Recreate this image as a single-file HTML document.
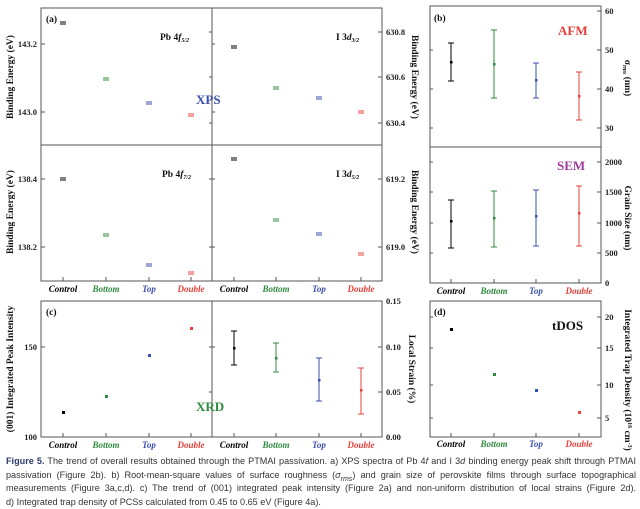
<!DOCTYPE html>
<html><head><meta charset="utf-8"><style>
body{margin:0;background:#fff;width:640px;height:508px;overflow:hidden}
svg{position:absolute;left:0;top:0}
.cap{position:absolute;left:6px;top:455px;width:630px;font:9.1px/13.5px "Liberation Sans",sans-serif;color:#333}
.cap div{text-align:justify;text-align-last:justify;white-space:nowrap;height:13.5px}
.cap div.l{text-align-last:left}
</style></head><body>
<svg width="640" height="508" font-family="Liberation Serif, serif" font-weight="bold">
<g fill="none" stroke="#555" stroke-width="1">
<rect x="41" y="8" width="341" height="273"/>
<line x1="212" y1="8" x2="212" y2="281"/><line x1="41" y1="145" x2="382" y2="145"/>
<rect x="41" y="301" width="341" height="136"/><line x1="212" y1="301" x2="212" y2="437"/>
<rect x="430" y="6" width="171" height="277"/><line x1="430" y1="147" x2="601" y2="147"/>
<rect x="430" y="301" width="171" height="136"/>
</g>
<g stroke="#555" stroke-width="1">
<path d="M41 44h4M41 112h4M41 179h4M41 247h4M382 32h-4M382 77h-4M382 123h-4M382 179h-4M382 247h-4M212 32h-3M212 77h-3M212 123h-3M212 179h-3M212 247h-3M212 44h3M212 112h3M212 179h3M212 247h3"/>
<path d="M63 281v-4M106 281v-4M149 281v-4M191 281v-4M234 281v-4M276 281v-4M319 281v-4M361 281v-4"/>
<path d="M41 347h4M41 437h4M382 347h-4M382 392h-4M212 347h3M212 347h-3M212 392h-3"/>
<path d="M63 437v-4M106 437v-4M149 437v-4M191 437v-4M234 437v-4M276 437v-4M319 437v-4M361 437v-4"/>
<path d="M601 11h-4M601 50h-4M601 89h-4M601 128h-4M430 50h3M430 89h3M430 128h3M601 162h-4M601 192h-4M601 223h-4M601 253h-4M430 162h3M430 192h3M430 223h3M430 253h3"/>
<path d="M451 283v-4M494 283v-4M536 283v-4M579 283v-4M451 437v-4M494 437v-4M536 437v-4M579 437v-4"/>
<path d="M601 317h-4M601 348h-4M601 385h-4M601 418h-4M430 317h3M430 348h3M430 385h3M430 418h3"/>
</g>
<g stroke-width="1">
<g stroke="#000"><path d="M60 22h6M60 24h6M231 46h6M231 48h6M60 178h6M60 180h6M231 158h6M231 160h6"/></g>
<g stroke="#2e8b3e"><path d="M103 78h6M103 80h6M273 87h6M273 89h6M103 234h6M103 236h6M273 219h6M273 221h6"/></g>
<g stroke="#3a4fb0"><path d="M146 102h6M146 104h6M316 97h6M316 99h6M146 264h6M146 266h6M316 233h6M316 235h6"/></g>
<g stroke="#e8403a"><path d="M188 114h6M188 116h6M358 111h6M358 113h6M188 272h6M188 274h6M358 253h6M358 255h6"/></g>
</g>
<rect x="62" y="411" width="3" height="3" fill="#000"/><rect x="105" y="395" width="3" height="3" fill="#2e8b3e"/><rect x="148" y="354" width="3" height="3" fill="#3a4fb0"/><rect x="190" y="327" width="3" height="3" fill="#e8403a"/>
<g stroke-width="1">
<path stroke="#000" d="M234 331v34M231 331h6M231 365h6"/><rect x="233" y="347" width="2.5" height="2.5" fill="#000"/>
<path stroke="#2e8b3e" d="M276 343v29M273 343h6M273 372h6"/><rect x="275" y="357" width="2.5" height="2.5" fill="#2e8b3e"/>
<path stroke="#3a4fb0" d="M319 358v43M316 358h6M316 401h6"/><rect x="318" y="379" width="2.5" height="2.5" fill="#3a4fb0"/>
<path stroke="#e8403a" d="M361 368v46M358 368h6M358 414h6"/><rect x="360" y="389" width="2.5" height="2.5" fill="#e8403a"/>
<path stroke="#000" d="M451 43v38M448 43h6M448 81h6"/><rect x="450" y="61" width="2.5" height="2.5" fill="#000"/>
<path stroke="#2e8b3e" d="M494 30v68M491 30h6M491 98h6"/><rect x="493" y="63" width="2.5" height="2.5" fill="#2e8b3e"/>
<path stroke="#3a4fb0" d="M536 63v35M533 63h6M533 98h6"/><rect x="535" y="79" width="2.5" height="2.5" fill="#3a4fb0"/>
<path stroke="#e8403a" d="M579 72v48M576 72h6M576 120h6"/><rect x="578" y="95" width="2.5" height="2.5" fill="#e8403a"/>
<path stroke="#000" d="M451 200v48M448 200h6M448 248h6"/><rect x="450" y="220" width="2.5" height="2.5" fill="#000"/>
<path stroke="#2e8b3e" d="M494 191v56M491 191h6M491 247h6"/><rect x="493" y="217" width="2.5" height="2.5" fill="#2e8b3e"/>
<path stroke="#3a4fb0" d="M536 190v56M533 190h6M533 246h6"/><rect x="535" y="215" width="2.5" height="2.5" fill="#3a4fb0"/>
<path stroke="#e8403a" d="M579 186v60M576 186h6M576 246h6"/><rect x="578" y="212" width="2.5" height="2.5" fill="#e8403a"/>
</g>
<rect x="450" y="328" width="3" height="3" fill="#000"/><rect x="493" y="373" width="3" height="3" fill="#2e8b3e"/><rect x="535" y="389" width="3" height="3" fill="#3a4fb0"/><rect x="578" y="411" width="3" height="3" fill="#e8403a"/>
<g font-size="8.5" fill="#222">
<g text-anchor="end"><text x="37" y="47">143.2</text><text x="37" y="115">143.0</text><text x="37" y="182">138.4</text><text x="37" y="250">138.2</text><text x="37" y="350">150</text><text x="37" y="440">100</text></g>
<text x="386" y="35">630.8</text><text x="386" y="80">630.6</text><text x="386" y="126">630.4</text><text x="386" y="182">619.2</text><text x="386" y="250">619.0</text>
<text x="386" y="304">0.15</text><text x="386" y="350">0.10</text><text x="386" y="395">0.05</text><text x="386" y="440">0.00</text>
<text x="605" y="14">60</text><text x="605" y="53">50</text><text x="605" y="92">40</text><text x="605" y="131">30</text>
<text x="605" y="165">2000</text><text x="605" y="195">1500</text><text x="605" y="226">1000</text><text x="605" y="256">500</text><text x="605" y="286">0</text>
<text x="605" y="320">20</text><text x="605" y="351">15</text><text x="605" y="388">10</text><text x="605" y="421">5</text>
</g>
<g font-size="9" font-style="italic" text-anchor="middle">
<g><text x="63" y="292" fill="#000">Control</text><text x="106" y="292" fill="#2e8b3e">Bottom</text><text x="149" y="292" fill="#3a4fb0">Top</text><text x="191" y="292" fill="#e8403a">Double</text><text x="234" y="292" fill="#000">Control</text><text x="276" y="292" fill="#2e8b3e">Bottom</text><text x="319" y="292" fill="#3a4fb0">Top</text><text x="361" y="292" fill="#e8403a">Double</text></g>
<g><text x="63" y="448" fill="#000">Control</text><text x="106" y="448" fill="#2e8b3e">Bottom</text><text x="149" y="448" fill="#3a4fb0">Top</text><text x="191" y="448" fill="#e8403a">Double</text><text x="234" y="448" fill="#000">Control</text><text x="276" y="448" fill="#2e8b3e">Bottom</text><text x="319" y="448" fill="#3a4fb0">Top</text><text x="361" y="448" fill="#e8403a">Double</text></g>
<g><text x="451" y="294" fill="#000">Control</text><text x="494" y="294" fill="#2e8b3e">Bottom</text><text x="536" y="294" fill="#3a4fb0">Top</text><text x="579" y="294" fill="#e8403a">Double</text></g>
<g><text x="451" y="447" fill="#000">Control</text><text x="494" y="447" fill="#2e8b3e">Bottom</text><text x="536" y="447" fill="#3a4fb0">Top</text><text x="579" y="447" fill="#e8403a">Double</text></g>
</g>
<g font-size="9.5" fill="#111">
<text x="46" y="22">(a)</text><text x="46" y="315">(c)</text><text x="434" y="21">(b)</text><text x="434" y="315">(d)</text>
<text x="160" y="40">Pb 4<tspan font-style="italic">f</tspan><tspan font-size="6" dy="2" font-style="italic">5/2</tspan></text>
<text x="336" y="40">I 3<tspan font-style="italic">d</tspan><tspan font-size="6" dy="2" font-style="italic">3/2</tspan></text>
<text x="162" y="177">Pb 4<tspan font-style="italic">f</tspan><tspan font-size="6" dy="2" font-style="italic">7/2</tspan></text>
<text x="336" y="177">I 3<tspan font-style="italic">d</tspan><tspan font-size="6" dy="2" font-style="italic">5/2</tspan></text>
</g>
<text x="196" y="104" font-size="13" fill="#3a4fb0">XPS</text>
<text x="196" y="411" font-size="13" fill="#2e8b3e">XRD</text>
<text x="558" y="35" font-size="13" fill="#e8403a">AFM</text>
<text x="557" y="170" font-size="13" fill="#a03a9a">SEM</text>
<text x="552" y="330" font-size="13" fill="#111">tDOS</text>
<g font-size="9.5" fill="#111" text-anchor="middle">
<text transform="translate(13,77) rotate(-90)">Binding Energy (eV)</text>
<text transform="translate(13,212) rotate(-90)">Binding Energy (eV)</text>
<text transform="translate(412,77) rotate(90)">Binding Energy (eV)</text>
<text transform="translate(412,212) rotate(90)">Binding Energy (eV)</text>
<text transform="translate(13,369) rotate(-90)">(001) Integrated Peak Intensity</text>
<text transform="translate(409,369) rotate(90)">Local Strain (%)</text>
<text transform="translate(625,78) rotate(90)">σ<tspan font-size="6" dy="2" font-style="italic">rms</tspan><tspan dy="-2"> (nm)</tspan></text>
<text transform="translate(625,218) rotate(90)">Grain Size (nm)</text>
<text transform="translate(625,380) rotate(90)">Integrated Trap Density (10<tspan font-size="6" dy="-3">16</tspan><tspan dy="3"> cm</tspan><tspan font-size="6" dy="-3">-3</tspan><tspan dy="3">)</tspan></text>
</g>
</svg>
<div class="cap">
<div><b style="color:#2a3a6a">Figure 5.</b> The trend of overall results obtained through the PTMAI passivation. a) XPS spectra of Pb 4<i>f</i> and I 3<i>d</i> binding energy peak shift through PTMAI</div>
<div>passivation (Figure 2b). b) Root-mean-square values of surface roughness (<i>σ</i><sub style="font-size:7px;line-height:0"><i>rms</i></sub>) and grain size of perovskite films through surface topographical</div>
<div>measurements (Figure 3a,c,d). c) The trend of (001) integrated peak intensity (Figure 2a) and non-uniform distribution of local strains (Figure 2d).</div>
<div class="l">d) Integrated trap density of PCSs calculated from 0.45 to 0.65 eV (Figure 4a).</div>
</div>
</body></html>
